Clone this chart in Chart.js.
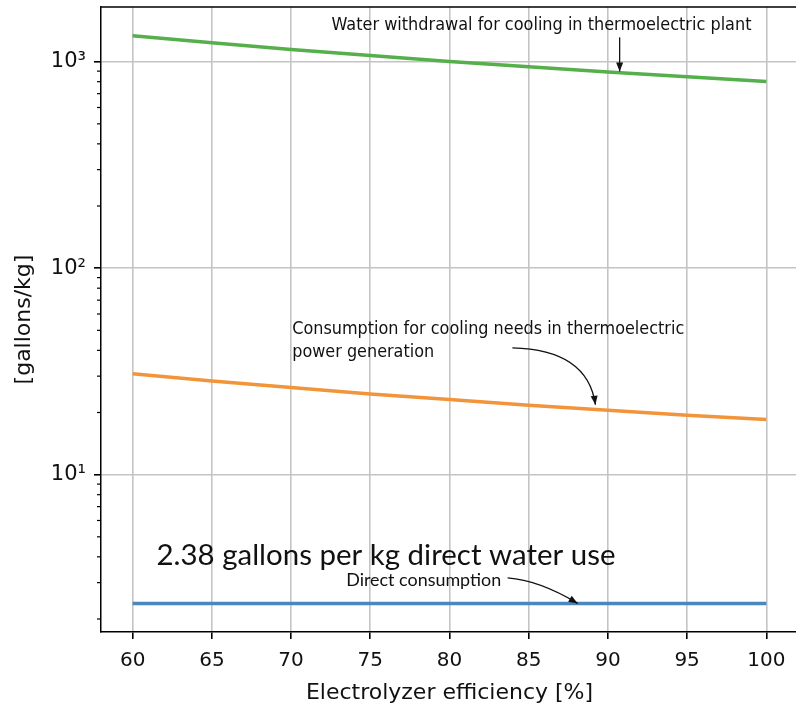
<!DOCTYPE html>
<html>
<head>
<meta charset="utf-8">
<script src="https://cdn.jsdelivr.net/npm/chart.js@4.4.1/dist/chart.umd.min.js"></script>
<style>
  html, body { margin: 0; padding: 0; background: #fff; overflow: hidden; }
  #wrap { width: 796px; height: 709px; overflow: hidden; }
  canvas { display: block; }
</style>
</head>
<body>
<div id="wrap"><canvas id="grafico" width="800" height="709"></canvas></div>
<script>
// values
const efficiency = [60, 65, 70, 75, 80, 85, 90, 95, 100];
const withdrawal = [1337, 1234, 1146, 1070, 1003, 944, 891, 845, 802];
const cooling = [30.8, 28.4, 26.4, 24.6, 23.1, 21.7, 20.5, 19.4, 18.5];
const direct = [2.38, 2.38, 2.38, 2.38, 2.38, 2.38, 2.38, 2.38, 2.38];

const xTicks = [60, 65, 70, 75, 80, 85, 90, 95, 100];
const yTicks = [10, 100, 1000];
const yTickLabels = ['10¹', '10²', '10³'];

const mplFont = '"DejaVu Sans", sans-serif';

// annotation texts, anchored in data units
const notes = [
  { text: ['Water withdrawal for cooling in thermoelectric plant'], x: 72.55, y: 1500, width: 420, font: '18px ' + mplFont, lineGap: 0 },
  { text: ['Consumption for cooling needs in thermoelectric', 'power generation'], x: 70.07, y: 50.3, width: 392, font: '18px ' + mplFont, lineGap: 23 },
  { text: ['2.38 gallons per kg direct water use'], x: 61.5, y: 4.03, width: 459, font: '28px Lato, "Open Sans", sans-serif', lineGap: 0 },
  { text: ['Direct consumption'], x: 73.48, y: 3.08, width: 155, font: '17px Lato, "Open Sans", sans-serif', lineGap: 0 }
];
// arrows: tail, optional bend point, head (data units)
const arrows = [
  { from: [90.74, 1312], bend: null, to: [90.74, 897] },
  { from: [83.97, 41.1], bend: [88.72, 40.3], to: [89.21, 21.8] },
  { from: [83.67, 3.16], bend: [85.65, 3.08], to: [88.09, 2.38] }
];

function desenharTexto(ctx, linhas, x, y, largura, fonte, gap) {
  ctx.font = fonte;
  const escala = largura / ctx.measureText(linhas[0]).width;
  linhas.forEach((linha, i) => {
    ctx.save();
    ctx.translate(x, y + i * gap);
    ctx.scale(escala, 1);
    ctx.fillText(linha, 0, 0);
    ctx.restore();
  });
}

function desenharSeta(ctx, x1, y1, cx, cy, x2, y2) {
  ctx.beginPath();
  ctx.moveTo(x1, y1);
  ctx.quadraticCurveTo(cx, cy, x2, y2);
  ctx.stroke();
  // arrow head along the final direction
  let ax = x2 - cx, ay = y2 - cy;
  const len = Math.hypot(ax, ay);
  ax /= len; ay /= len;
  const h = 9, w = 3.5;
  ctx.beginPath();
  ctx.moveTo(x2, y2);
  ctx.lineTo(x2 - ax * h - ay * w, y2 - ay * h + ax * w);
  ctx.lineTo(x2 - ax * h + ay * w, y2 - ay * h - ax * w);
  ctx.closePath();
  ctx.fill();
}

const extras = {
  id: 'extras',
  afterDraw(chart) {
    const { ctx, chartArea, scales } = chart;
    const xs = scales.x, ys = scales.y;
    ctx.save();
    // top and right spines
    ctx.strokeStyle = '#000';
    ctx.lineWidth = 1.5;
    ctx.beginPath();
    ctx.moveTo(chartArea.left, chartArea.top);
    ctx.lineTo(chartArea.right, chartArea.top);
    ctx.lineTo(chartArea.right, chartArea.bottom);
    ctx.stroke();
    // minor log ticks
    ctx.lineWidth = 1.2;
    for (let dec = 1; dec <= 1000; dec *= 10) {
      for (let m = 2; m <= 9; m++) {
        const v = m * dec;
        if (v < ys.min || v > ys.max) continue;
        const py = ys.getPixelForValue(v);
        ctx.beginPath();
        ctx.moveTo(chartArea.left - 4, py);
        ctx.lineTo(chartArea.left, py);
        ctx.stroke();
      }
    }
    // annotations
    ctx.fillStyle = '#111';
    ctx.textBaseline = 'middle';
    ctx.textAlign = 'left';
    notes.forEach(n => {
      desenharTexto(ctx, n.text, xs.getPixelForValue(n.x), ys.getPixelForValue(n.y), n.width, n.font, n.lineGap);
    });
    ctx.strokeStyle = '#111';
    ctx.lineWidth = 1.3;
    arrows.forEach(a => {
      const x1 = xs.getPixelForValue(a.from[0]), y1 = ys.getPixelForValue(a.from[1]);
      const x2 = xs.getPixelForValue(a.to[0]), y2 = ys.getPixelForValue(a.to[1]);
      const cx = a.bend ? xs.getPixelForValue(a.bend[0]) : (x1 + x2) / 2;
      const cy = a.bend ? ys.getPixelForValue(a.bend[1]) : (y1 + y2) / 2;
      desenharSeta(ctx, x1, y1, cx, cy, x2, y2);
    });
    ctx.restore();
  }
};

const pontos = (serie) => efficiency.map((e, i) => ({ x: e, y: serie[i] }));

new Chart(document.getElementById('grafico').getContext('2d'), {
  type: 'line',
  data: {
    datasets: [
      { label: 'Direct consumption', data: pontos(direct), borderColor: '#4a86c0', borderWidth: 3.5, pointRadius: 0, fill: false },
      { label: 'Consumption for cooling', data: pontos(cooling), borderColor: '#f2953a', borderWidth: 3.5, pointRadius: 0, fill: false },
      { label: 'Water withdrawal', data: pontos(withdrawal), borderColor: '#55b04c', borderWidth: 3.5, pointRadius: 0, fill: false }
    ]
  },
  options: {
    responsive: false,
    animation: false,
    devicePixelRatio: 1,
    layout: { padding: { top: 7, right: 2, left: 0, bottom: 0 } },
    plugins: { legend: { display: false }, tooltip: { enabled: false } },
    scales: {
      x: {
        type: 'linear',
        min: 58,
        max: 102,
        afterBuildTicks: (scale) => { scale.ticks = xTicks.map(v => ({ value: v })); },
        afterFit: (scale) => { scale.height = 77; scale.paddingLeft = 0; scale.paddingRight = 0; },
        ticks: { color: '#111', font: { family: mplFont, size: 20 }, padding: 10, maxRotation: 0 },
        grid: { color: '#c4c4c4', lineWidth: 1.6, tickColor: '#000', tickLength: 7 },
        border: { color: '#000', width: 1.5 },
        title: { display: true, text: 'Electrolyzer efficiency [%]', color: '#111', font: { family: mplFont, size: 22 }, padding: { top: 0, bottom: 3 } }
      },
      y: {
        type: 'logarithmic',
        min: 1.73,
        max: 1840,
        afterBuildTicks: (scale) => { scale.ticks = yTicks.map(v => ({ value: v })); },
        afterFit: (scale) => { scale.width = 101; scale.paddingTop = 0; scale.paddingBottom = 0; },
        ticks: {
          color: '#111',
          font: { family: mplFont, size: 21 },
          padding: 8,
          callback: (v) => yTickLabels[yTicks.indexOf(v)]
        },
        grid: { color: '#c4c4c4', lineWidth: 1.6, tickColor: '#000', tickLength: 7 },
        border: { color: '#000', width: 1.5 },
        title: { display: true, text: '[gallons/kg]', color: '#111', font: { family: mplFont, size: 22 }, padding: { top: 11, bottom: 0 } }
      }
    }
  },
  plugins: [extras]
});
</script>
</body>
</html>
